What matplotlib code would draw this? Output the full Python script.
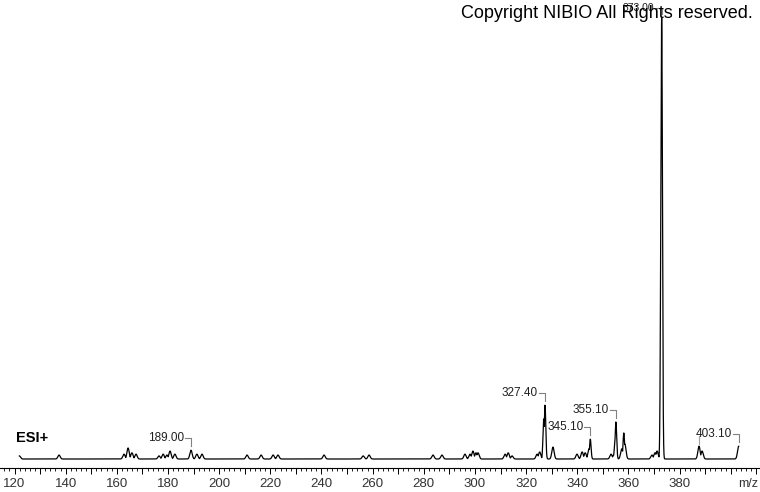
import numpy as np
import matplotlib
matplotlib.use('Agg')
import matplotlib.pyplot as plt
from matplotlib.ticker import MultipleLocator, FuncFormatter

plt.rcParams['font.family'] = ['Liberation Sans', 'DejaVu Sans']

# --- dados do espectro (m/z, intensidade relativa %) ---
peak_mz = [121.9, 137.4, 162.8, 164.4, 165.9, 167.5, 176.5, 178.1, 179.6, 180.8,
           182.7, 189.0, 191.3, 193.3, 210.9, 216.4, 221.1, 223.0, 241.0, 256.3,
           258.6, 283.6, 287.1, 296.1, 298.1, 299.2, 300.4, 301.2, 311.8, 313.0,
           314.5, 324.3, 325.3, 326.9, 327.4, 330.5, 339.9, 341.9, 343.1, 344.6,
           345.1, 353.2, 354.3, 354.8, 355.1, 357.4, 358.2, 358.6, 369.2, 370.4,
           371.2, 372.6, 372.9, 373.0, 387.6, 388.8, 403.1]
peak_int = [0.7, 0.9, 1.1, 2.5, 1.4, 1.1, 0.7, 1.1, 0.9, 1.8,
            1.1, 2.0, 1.1, 1.1, 0.9, 0.9, 0.9, 0.9, 0.9, 0.7,
            0.9, 0.9, 0.9, 1.1, 1.1, 1.8, 1.4, 1.4, 1.1, 1.4,
            0.7, 1.1, 1.6, 9.1, 12.2, 2.7, 1.1, 1.6, 1.4, 2.3,
            4.5, 1.1, 0.9, 4.5, 8.4, 2.3, 5.9, 3.4, 0.9, 1.4,
            1.8, 4.3, 83.7, 100.0, 2.9, 1.8, 2.9]

label_mz = [189.0, 327.4, 345.1, 355.1, 373.0, 403.1]
label_txt = ['189.00', '327.40', '345.10', '355.10', '373.00', '403.10']

# perfil do espectro (cada pico desenhado como um pico estreito)
mz_start, mz_end = 121.9, 403.1
grid = np.arange(mz_start, mz_end + 0.005, 0.02)
profile = np.zeros_like(grid)
for m, h in zip(peak_mz, peak_int):
    width = 0.45 if h < 4 else 0.3
    profile = np.maximum(profile, h * np.exp(-0.5 * ((grid - m) / width) ** 2))

fig = plt.figure(figsize=(7.6, 4.92), dpi=100)
ax = fig.add_axes([0, 24 / 492, 1, 468 / 492])

ax.plot(grid, profile, color='black', lw=0.9)

# escala: px por unidade
px_x = 2.558
px_y = 4.41
ax.set_xlim(120 - 14.5 / px_x, 120 + 745.5 / px_x)
ax.set_ylim(-9 / px_y, 100 + 18 / px_y)

# rótulos dos picos com colchete
for m, t in zip(label_mz, label_txt):
    h = peak_int[peak_mz.index(m)]
    lvl = h + 12 / px_y
    if m == 373.0:
        lvl = 100 + 10 / px_y
    ax.plot([m - 6 / px_x, m, m], [lvl, lvl, h + 4 / px_y], color='#808080', lw=0.8)
    ax.text(m - 7 / px_x, lvl, t, ha='right', va='center', fontsize=8.5 if m != 373.0 else 7.5,
            color='#202020', zorder=1)

# linha cinza extra à esquerda do 403.10
h387 = peak_int[peak_mz.index(387.6)]
ax.plot([387.6, 387.6], [h387 + 2 / px_y, h387 + 10 / px_y], color='#a0a0a0', lw=0.8)

for s in ['top', 'left', 'right']:
    ax.spines[s].set_visible(False)
ax.spines['bottom'].set_linewidth(0.8)
ax.set_yticks([])
ax.xaxis.set_major_locator(MultipleLocator(10))
ax.xaxis.set_minor_locator(MultipleLocator(2))
ax.xaxis.set_major_formatter(FuncFormatter(
    lambda v, p: f'{v:.0f}' if round(v) % 20 == 0 and v < 395 else ''))
ax.tick_params(axis='x', which='major', direction='out', length=4, width=0.7,
               labelsize=9.5, labelcolor='#333333', pad=3)
ax.tick_params(axis='x', which='minor', direction='out', length=2.5, width=0.6)
ax.patch.set_visible(False)

fig.text(748 / 760, 1 - 484 / 492, 'm/z', ha='center', va='center', fontsize=9, color='#333333')
ax.text(16 / 760, 1 - 438 / 468, 'ESI+', transform=ax.transAxes, ha='left', va='center',
        fontsize=10.5, fontweight='bold')
fig.text(753 / 760, 1 - 13 / 492, 'Copyright NIBIO All Rights reserved.', ha='right', va='center',
         fontsize=13, color='black', zorder=5)

fig.savefig('out.png', dpi=100)
